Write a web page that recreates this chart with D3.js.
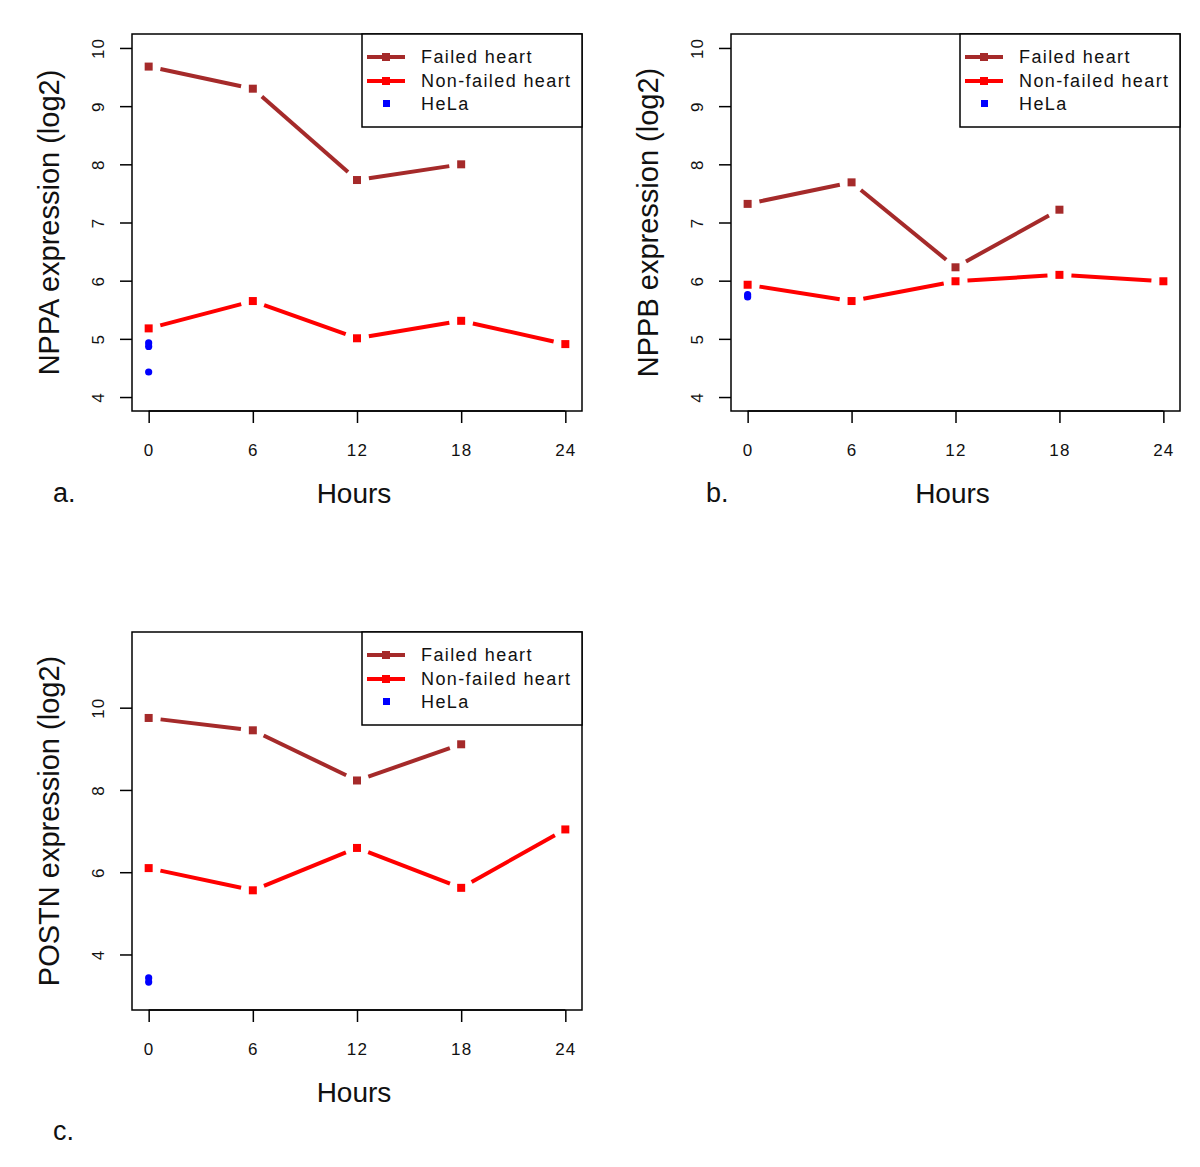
<!DOCTYPE html>
<html>
<head>
<meta charset="utf-8">
<script src="https://cdn.jsdelivr.net/npm/d3@7"></script>
<style>
  html, body { margin: 0; padding: 0; background: #fff; }
  svg { display: block; }
  text { font-family: "Liberation Sans", Arial, Helvetica, sans-serif; fill: #111; }
</style>
</head>
<body>
<svg id="chart" width="1200" height="1167"></svg>
<script>
// ---------------- DATA ----------------
const xTicks = [0, 6, 12, 18, 24];
const failedHours = [0, 6, 12, 18];
const nonFailedHours = [0, 6, 12, 18, 24];
const legendLabels = ["Failed heart", "Non-failed heart", "HeLa"];

const nppaFailed = [9.68, 9.30, 7.73, 8.00];
const nppaNonFailed = [5.18, 5.65, 5.01, 5.31, 4.91];
const nppaHeLa = [4.93, 4.87, 4.43];

const nppbFailed = [7.32, 7.69, 6.23, 7.22];
const nppbNonFailed = [5.93, 5.65, 5.99, 6.10, 5.99];
const nppbHeLa = [5.76, 5.72];

const postnFailed = [9.75, 9.45, 8.23, 9.11];
const postnNonFailed = [6.10, 5.56, 6.59, 5.62, 7.04];
const postnHeLa = [3.43, 3.33];

const yTicksAB = [4, 5, 6, 7, 8, 9, 10];
const yTicksC = [4, 6, 8, 10];

// ---------------- LAYOUT ----------------
const panels = [
  { label: "a.", ytitle: "NPPA expression (log2)", failed: nppaFailed, nonFailed: nppaNonFailed, hela: nppaHeLa,
    yDomain: [3.76, 10.24], yTicks: yTicksAB, left: 132, right: 582, top: 34, bottom: 411, labelX: 53, labelY: 502 },
  { label: "b.", ytitle: "NPPB expression (log2)", failed: nppbFailed, nonFailed: nppbNonFailed, hela: nppbHeLa,
    yDomain: [3.76, 10.24], yTicks: yTicksAB, left: 731, right: 1180, top: 34, bottom: 411, labelX: 706, labelY: 502 },
  { label: "c.", ytitle: "POSTN expression (log2)", failed: postnFailed, nonFailed: postnNonFailed, hela: postnHeLa,
    yDomain: [2.65, 11.84], yTicks: yTicksC, left: 132, right: 582, top: 632, bottom: 1010, labelX: 53, labelY: 1140 }
];

const colFailed = "#A52A2A";
const colNon = "#FF0000";
const colHeLa = "#0000FF";

const svg = d3.select("#chart");

function drawTypeB(g, xs, ys, x, y, color) {
  const pts = xs.map((h, i) => [x(h), y(ys[i])]);
  const gap = 12;
  for (let i = 0; i < pts.length - 1; i++) {
    const [x0, y0] = pts[i], [x1, y1] = pts[i + 1];
    const dx = x1 - x0, dy = y1 - y0, len = Math.hypot(dx, dy);
    if (len <= 2 * gap) continue;
    const ux = dx / len, uy = dy / len;
    g.append("line")
      .attr("x1", x0 + ux * gap).attr("y1", y0 + uy * gap)
      .attr("x2", x1 - ux * gap).attr("y2", y1 - uy * gap)
      .attr("stroke", color).attr("stroke-width", 4);
  }
  g.selectAll(null).data(pts).enter().append("rect")
    .attr("x", d => d[0] - 4).attr("y", d => d[1] - 4)
    .attr("width", 8).attr("height", 8).attr("fill", color);
}

panels.forEach(p => {
  const x = d3.scaleLinear().domain([-0.96, 24.96]).range([p.left, p.right]);
  const y = d3.scaleLinear().domain(p.yDomain).range([p.bottom, p.top]);
  const g = svg.append("g");

  // x axis
  const xa = g.append("g").attr("transform", `translate(0,${p.bottom})`)
    .call(d3.axisBottom(x).tickValues(xTicks).tickSize(12).tickPadding(28).tickFormat(d3.format("d")));
  xa.select(".domain").remove();
  xa.attr("font-size", null).attr("font-family", null);
  xa.selectAll(".tick line").attr("stroke", "#000").attr("stroke-width", 1.5);
  xa.selectAll(".tick text").attr("font-size", 17).attr("letter-spacing", 1.2).attr("fill", "#111")
    .attr("dy", "0.3em");
  g.append("line").attr("x1", x(0)).attr("x2", x(24)).attr("y1", p.bottom).attr("y2", p.bottom)
    .attr("stroke", "#000").attr("stroke-width", 1.5);

  // y axis
  const ya = g.append("g").attr("transform", `translate(${p.left},0)`)
    .call(d3.axisLeft(y).tickValues(p.yTicks).tickSize(12).tickFormat(d3.format("d")));
  ya.select(".domain").remove();
  ya.attr("font-size", null).attr("font-family", null);
  ya.selectAll(".tick line").attr("stroke", "#000").attr("stroke-width", 1.5);
  ya.selectAll(".tick text").remove();
  ya.selectAll(".tick").append("text")
    .attr("transform", "translate(-28,0) rotate(-90)")
    .attr("text-anchor", "middle")
    .attr("font-size", 17).attr("letter-spacing", 1)
    .text(d => d);

  // plot box
  g.append("rect").attr("x", p.left).attr("y", p.top)
    .attr("width", p.right - p.left).attr("height", p.bottom - p.top)
    .attr("fill", "none").attr("stroke", "#000").attr("stroke-width", 1.5);

  // series
  drawTypeB(g, failedHours, p.failed, x, y, colFailed);
  drawTypeB(g, nonFailedHours, p.nonFailed, x, y, colNon);
  g.selectAll(null).data(p.hela).enter().append("circle")
    .attr("cx", x(0)).attr("cy", d => y(d)).attr("r", 3.6).attr("fill", colHeLa);

  // legend
  const lx = p.right - 220, ly = p.top, lh = 93;
  g.append("rect").attr("x", lx).attr("y", ly).attr("width", 220).attr("height", lh)
    .attr("fill", "#fff").attr("stroke", "#000").attr("stroke-width", 1.5);
  const rows = [23, 47, 70];
  const cols = [colFailed, colNon, colHeLa];
  legendLabels.forEach((lab, i) => {
    const ry = ly + rows[i];
    if (i < 2) {
      g.append("line").attr("x1", lx + 5).attr("x2", lx + 43).attr("y1", ry).attr("y2", ry)
        .attr("stroke", cols[i]).attr("stroke-width", 4);
      g.append("rect").attr("x", lx + 20).attr("y", ry - 4).attr("width", 8).attr("height", 8).attr("fill", cols[i]);
    } else {
      g.append("rect").attr("x", lx + 21).attr("y", ry - 4).attr("width", 7).attr("height", 7).attr("fill", cols[i]);
    }
    g.append("text").attr("x", lx + 59).attr("y", ry + 6).attr("font-size", 18)
      .attr("letter-spacing", 1.4).attr("fill", "#222").text(lab);
  });

  // axis titles
  const cx = (p.left + p.right) / 2;
  g.append("text").attr("x", cx - 3).attr("y", p.bottom + 92).attr("text-anchor", "middle")
    .attr("font-size", 28).text("Hours");
  const cy = (p.top + p.bottom) / 2;
  g.append("text").attr("transform", `translate(${p.left - 73},${cy}) rotate(-90)`)
    .attr("text-anchor", "middle").attr("font-size", 29).text(p.ytitle);

  // panel label
  g.append("text").attr("x", p.labelX).attr("y", p.labelY)
    .attr("font-size", 27).text(p.label);
});
</script>
</body>
</html>
